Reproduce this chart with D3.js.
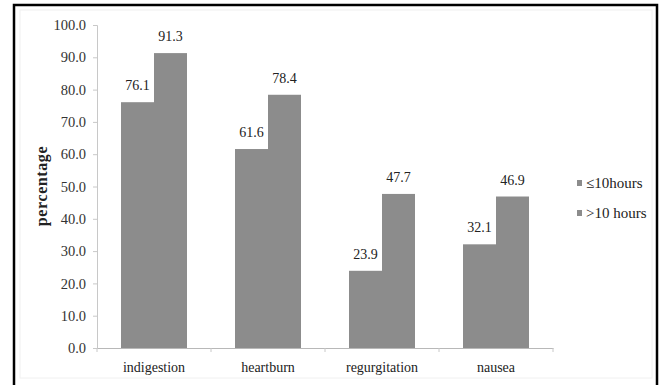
<!DOCTYPE html>
<html>
<head>
<meta charset="utf-8">
<script src="https://cdn.jsdelivr.net/npm/d3@7"></script>
</head>
<body style="margin:0;padding:0;background:#fff">
<svg id="chart" width="662" height="385" style="display:block"></svg>
<script>
// Symptoms and the share of each group reporting them (%)
const categories = ["indigestion", "heartburn", "regurgitation", "nausea"];
const seriesNames = ["\u226410hours", ">10 hours"];
const upTo10 = [76.1, 61.6, 23.9, 32.1];
const over10 = [91.3, 78.4, 47.7, 46.9];
const yTicks = [0, 10, 20, 30, 40, 50, 60, 70, 80, 90, 100];

const series = [upTo10, over10];
const barColor = "#8c8c8c";
const FONT = "Times New Roman, Liberation Serif, serif";

const svg = d3.select("#chart");
const W = 662, H = 385;

// outer frame (left, top, right edges)
svg.append("path")
  .attr("d", `M14,${H} V5 H657 V${H}`)
  .attr("fill", "none").attr("stroke", "#000").attr("stroke-width", 2.5);

// faint inner plot-area frame
svg.append("rect")
  .attr("x", 20).attr("y", 10).attr("width", 632).attr("height", 368)
  .attr("fill", "none").attr("stroke", "#f0f0f0").attr("stroke-width", 1);

const x0 = 97, x1 = 553, yTop = 25, yBottom = 348;

const x = d3.scaleBand().domain(categories).range([x0, x1]).paddingInner(0).paddingOuter(0);
const xSub = d3.scaleBand().domain([0, 1]).range([0, 66]);
const y = d3.scaleLinear().domain([0, 100]).range([yBottom, yTop]);

// y axis
const yAxis = svg.append("g")
  .attr("transform", `translate(${x0},0)`)
  .call(d3.axisLeft(y).tickValues(yTicks).tickFormat(d3.format(".1f")).tickSize(4).tickPadding(7));
yAxis.select(".domain").attr("stroke", "#c8c8c8");
yAxis.selectAll(".tick line").attr("stroke", "#c8c8c8");
yAxis.selectAll(".tick text").attr("font-size", 14.5).attr("fill", "#333");

// bars
const groups = svg.append("g").selectAll("g")
  .data(categories)
  .join("g")
  .attr("transform", d => `translate(${x(d) + (x.bandwidth() - 66) / 2},0)`);

groups.each(function(cat, i) {
  const g = d3.select(this);
  series.forEach((vals, s) => {
    const v = vals[i];
    g.append("rect")
      .attr("x", xSub(s))
      .attr("y", y(v))
      .attr("width", xSub.bandwidth())
      .attr("height", yBottom - y(v))
      .attr("fill", barColor);
    g.append("text")
      .attr("x", xSub(s) + xSub.bandwidth() / 2)
      .attr("y", y(v) - 12)
      .attr("text-anchor", "middle")
      .attr("font-size", 14)
      .attr("fill", "#222")
      .text(v.toFixed(1));
  });
});

// x axis
const xAxis = svg.append("g")
  .attr("transform", `translate(0,${yBottom})`)
  .call(d3.axisBottom(x).tickSize(0).tickPadding(14));
xAxis.select(".domain").attr("stroke", "#b8b8b8");
xAxis.selectAll(".tick text").attr("font-size", 14).attr("fill", "#222");
// small separators between categories
xAxis.selectAll(".sep")
  .data(d3.range(categories.length + 1))
  .join("line")
  .attr("x1", i => x0 + i * x.step()).attr("x2", i => x0 + i * x.step())
  .attr("y1", 0).attr("y2", 4)
  .attr("stroke", "#c8c8c8");

// y axis title
svg.append("text")
  .attr("transform", `translate(47,186) rotate(-90)`)
  .attr("text-anchor", "middle")
  .attr("font-size", 16)
  .attr("font-weight", "bold")
  .attr("letter-spacing", 0.6)
  .attr("fill", "#222")
  .text("percentage");

// legend
const legend = svg.append("g").attr("transform", "translate(577,183)");
seriesNames.forEach((name, i) => {
  const row = legend.append("g").attr("transform", `translate(0,${i * 30})`);
  row.append("rect").attr("x", 0).attr("y", -3).attr("width", 5).attr("height", 6).attr("fill", barColor);
  row.append("text").attr("x", 9).attr("y", 5).attr("font-size", 15).attr("fill", "#222").text(name);
});

// one typeface for every label
svg.selectAll("g").attr("font-family", null);
svg.selectAll("text").attr("font-family", FONT);
</script>
</body>
</html>
